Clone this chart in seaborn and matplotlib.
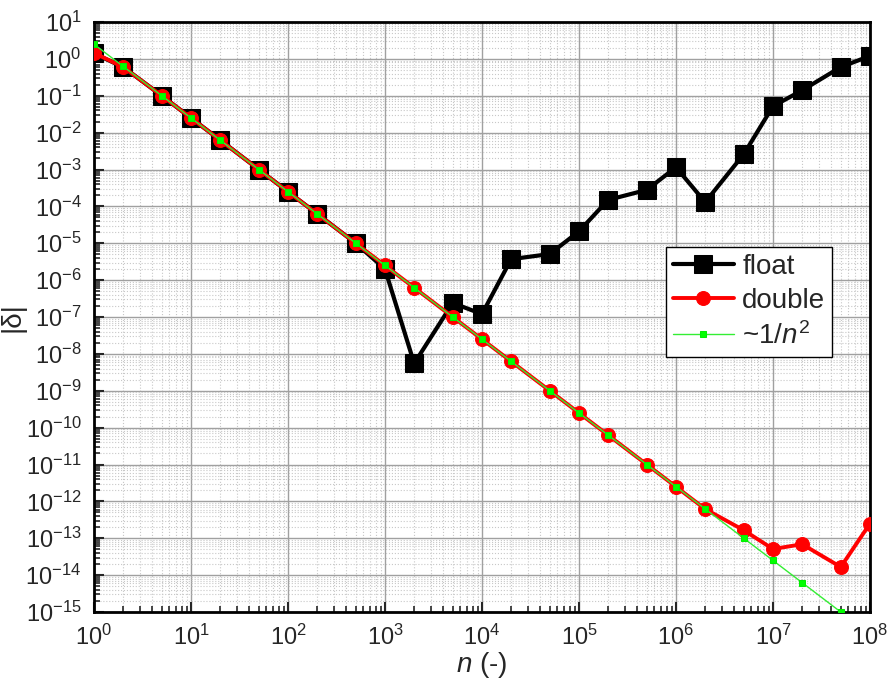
import numpy as np
import pandas as pd
import matplotlib
matplotlib.use("Agg")
import matplotlib.pyplot as plt
import seaborn as sns
from matplotlib.ticker import LogLocator, NullFormatter

n_vals = [1, 2, 5, 1e1, 2e1, 5e1, 1e2, 2e2, 5e2, 1e3, 2e3, 5e3, 1e4, 2e4, 5e4,
          1e5, 2e5, 5e5, 1e6, 2e6, 5e6, 1e7, 2e7, 5e7, 1e8]
float_vals = [1.4, 0.6, 0.1, 0.025, 6.3e-3, 1.0e-3, 2.5e-4, 6.3e-5, 1.0e-5, 2.0e-6,
              5.5e-9, 2.4e-7, 1.2e-7, 3.7e-6, 5.1e-6, 2.1e-5, 1.5e-4, 2.8e-4, 1.15e-3,
              1.3e-4, 2.6e-3, 5.2e-2, 0.14, 0.6, 1.2]
double_vals = [1.45, 0.6, 0.1, 0.025, 6.25e-3, 1.0e-3, 2.5e-4, 6.25e-5, 1.0e-5, 2.5e-6,
               6.25e-7, 1.0e-7, 2.5e-8, 6.25e-9, 1.0e-9, 2.5e-10, 6.25e-11, 1.0e-11,
               2.5e-12, 6.2e-13, 1.65e-13, 5.1e-14, 6.9e-14, 1.66e-14, 2.5e-13]
ref_vals = [2.5, 0.625, 0.1, 0.025, 6.25e-3, 1.0e-3, 2.5e-4, 6.25e-5, 1.0e-5, 2.5e-6,
            6.25e-7, 1.0e-7, 2.5e-8, 6.25e-9, 1.0e-9, 2.5e-10, 6.25e-11, 1.0e-11,
            2.5e-12, 6.25e-13, 1.0e-13, 2.5e-14, 6.25e-15, 1.0e-15, 2.5e-16]

sns.set_theme(style="ticks")
plt.rcParams['font.family'] = ['Liberation Sans', 'DejaVu Sans']
plt.rcParams['mathtext.fontset'] = 'custom'
plt.rcParams['mathtext.rm'] = 'Liberation Sans'
plt.rcParams['mathtext.it'] = 'Liberation Sans:italic'

fig = plt.figure(figsize=(8.89, 6.81), dpi=100)
ax = fig.add_axes([0.1057, 0.1013, 0.8729, 0.8664])

df = pd.DataFrame({"n": n_vals, "float": float_vals, "double": double_vals, "ref": ref_vals})

sns.lineplot(data=df, x="n", y="float", ax=ax, color="black", linewidth=3.0,
             marker="s", markersize=12.5, markeredgecolor="black", markerfacecolor="black",
             label="float", zorder=3)
sns.lineplot(data=df, x="n", y="double", ax=ax, color="#ff0000", linewidth=2.8,
             marker="o", markersize=10, markeredgecolor="#ff0000", markerfacecolor="#ff0000",
             label="double", zorder=4)
sns.lineplot(data=df, x="n", y="ref", ax=ax, color="#33ee33", linewidth=1.0,
             marker="s", markersize=5, markeredgecolor="#00ee00", markerfacecolor="#00ff00",
             label="~1/$\\mathit{n}^2$", zorder=5)

ax.set_xscale("log")
ax.set_yscale("log")
ax.set_xlim(1, 1e8)
ax.set_ylim(1e-15, 10)

ax.xaxis.set_major_locator(LogLocator(base=10, numticks=100))
ax.yaxis.set_major_locator(LogLocator(base=10, numticks=100))
ax.xaxis.set_minor_locator(LogLocator(base=10, subs=np.arange(2, 10), numticks=200))
ax.yaxis.set_minor_locator(LogLocator(base=10, subs=np.arange(2, 10), numticks=200))
ax.xaxis.set_minor_formatter(NullFormatter())
ax.yaxis.set_minor_formatter(NullFormatter())

ax.grid(which="major", color="#a0a0a0", linewidth=1.0, linestyle="-", zorder=0)
ax.grid(which="minor", color="#c8c8c8", linewidth=0.8, linestyle=":", zorder=0)
ax.set_axisbelow(True)

ax.tick_params(which="major", direction="in", length=7, width=1.5, labelsize=17,
               top=False, right=False, pad=9)
ax.tick_params(which="minor", direction="in", length=4, width=1.2, top=False, right=False)
for s in ax.spines.values():
    s.set_linewidth(2.0)
    s.set_color("black")

ax.set_xlabel("$\\mathit{n}$ (-)", fontsize=20, labelpad=0)
ax.set_ylabel("|δ|", fontsize=20, labelpad=0)

leg = ax.legend(loc="upper left", bbox_to_anchor=(0.737, 0.619), fontsize=20,
                frameon=True, fancybox=False, edgecolor="black", framealpha=1,
                handlelength=2.2, labelspacing=0.3, borderpad=0.25, handletextpad=0.3,
                borderaxespad=0)
leg.get_frame().set_linewidth(1.0)

fig.savefig("out.png", dpi=100)
